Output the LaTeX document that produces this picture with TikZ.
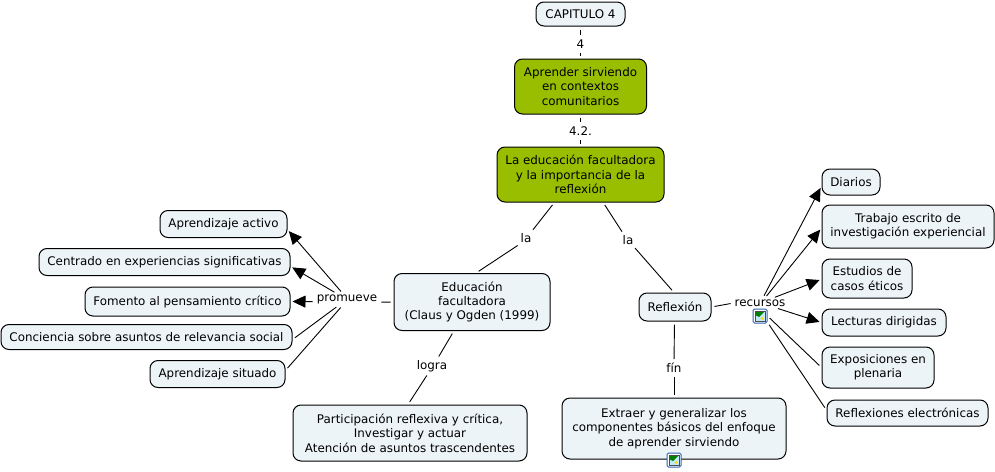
\documentclass[tikz,border=0pt]{standalone}
\usepackage{fontspec}
\setmainfont{DejaVu Sans}
\usepackage{xcolor}
\usetikzlibrary{arrows.meta}
\definecolor{cmapfill}{HTML}{EDF4F7}
\definecolor{cmapgreen}{HTML}{99BE00}
\definecolor{iconblue}{HTML}{2F63B8}

\begin{document}
\begin{tikzpicture}[x=1pt,y=-1pt,>={Triangle[length=13pt,width=12pt]},
  concept/.style={draw=black,fill=cmapfill,rounded corners=8pt,align=center,inner sep=0pt,font=\fontsize{11.9}{14.4}\selectfont,line width=1pt},
  hilite/.style={concept,fill=cmapgreen},
  phrase/.style={inner sep=1pt,font=\fontsize{11.9}{13}\selectfont},
  link/.style={line width=0.9pt,shorten <=3pt,shorten >=3pt},
  linkto/.style={link,->,shorten >=2pt},
  icon/.style={draw=iconblue,fill=white,rounded corners=1.5pt,minimum size=14pt,inner sep=0pt,line width=1pt}]
  \useasboundingbox (0,0) rectangle (995,471);
  % top of the map
  \node[concept,minimum width=89pt,minimum height=24pt] (cap) at (580.5,14) {CAPITULO 4};
  \node[hilite,minimum width=132pt,minimum height=55pt] (apr) at (580.5,86.5) {Aprender sirviendo\\en contextos\\comunitarios};
  \node[hilite,minimum width=167pt,minimum height=55pt] (edu) at (580.5,174.5) {La educación facultadora\\y la importancia de la\\reflexión};
  \node[phrase] (l4) at (580.5,44) {4};
  \node[phrase] (l42) at (580.5,131) {4.2.};
  \draw[link] (cap) -- (l4);
  \draw[link] (l4) -- (apr);
  \draw[link] (apr) -- (l42);
  \draw[link] (l42) -- (edu);
  % left branch
  \node[concept,minimum width=156pt,minimum height=57pt] (fac) at (472,302) {Educación\\facultadora\\(Claus y Ogden (1999)};
  \node[phrase] (la1) at (526,238) {la};
  \node[phrase] (prom) at (347,299.5) {promueve};
  \node[phrase] (logra) at (432,366) {logra};
  \node[concept,minimum width=234pt,minimum height=56pt] (part) at (410,433) {Participación reflexiva y crítica,\\Investigar y actuar\\Atención de asuntos trascendentes};
  \node[concept,minimum width=127pt,minimum height=27pt] (act) at (223.5,224) {Aprendizaje activo};
  \node[concept,minimum width=251pt,minimum height=27pt] (cen) at (164.5,262) {Centrado en experiencias significativas};
  \node[concept,minimum width=205pt,minimum height=29pt] (fom) at (187.5,301.5) {Fomento al pensamiento crítico};
  \node[concept,minimum width=291pt,minimum height=25pt] (con) at (146.5,337) {Conciencia sobre asuntos de relevancia social};
  \node[concept,minimum width=135pt,minimum height=27pt] (sit) at (217.5,374) {Aprendizaje situado};
  \draw[link] (edu.227) -- (la1.49);
  \draw[link] (la1.225) -- (fac.82);
  \draw[link] (fac.west) -- (prom.-5);
  \draw[link] (fac.238) -- (logra.53);
  \draw[link] (logra.243) -- (part.94);
  \draw[linkto] (prom.125) -- (act.-5);
  \draw[linkto] (prom.150) -- (cen.358);
  \draw[linkto] (prom.184) -- (fom.east);
  \draw[link] (prom.215) -- (con.359);
  \draw[link] (prom.233) -- (sit.3);
  % right branch
  \node[phrase] (la2) at (628,240) {la};
  \node[concept,minimum width=72pt,minimum height=28pt] (ref) at (675,307) {Reflexión};
  \node[phrase] (rec) at (760,303) {recursos};
  \node[phrase] (fin) at (674,368) {fín};
  \node[concept,minimum width=224pt,minimum height=61pt] (ext) at (674,428.5) {Extraer y generalizar los\\componentes básicos del enfoque\\de aprender sirviendo};
  \node[concept,minimum width=58pt,minimum height=26pt] (dia) at (851,182) {Diarios};
  \node[concept,minimum width=172pt,minimum height=43pt] (tra) at (908,226.5) {Trabajo escrito de\\investigación experiencial};
  \node[concept,minimum width=90pt,minimum height=39pt] (est) at (867,278.5) {Estudios de\\casos éticos};
  \node[concept,minimum width=124pt,minimum height=27pt] (lec) at (884,322.5) {Lecturas dirigidas};
  \node[concept,minimum width=112pt,minimum height=41pt] (exq) at (878,367.5) {Exposiciones en\\plenaria};
  \node[concept,minimum width=161pt,minimum height=26pt] (rel) at (907.5,413) {Reflexiones electrónicas};
  \node[icon] (ico) at (760,316) {};
  \node[icon] (ico2) at (674,460) {};
  \draw[link] (edu.309) -- (la2.127);
  \draw[link] (la2.311) -- (ref.94);
  \draw[link] (ref.east) -- (rec.west);
  \draw[link] (ref.268) -- (fin.north);
  \draw[link] (fin.south) -- (ext.north);
  \draw[linkto] (rec.60) -- (dia.188);
  \draw[linkto] (rec.45) -- (tra.181);
  \draw[linkto] (rec.21) -- (est.181);
  \draw[linkto] (rec.-17) -- (lec.west);
  \draw[link] (ico.0) -- (exq.west);
  \draw[link] (ico.-40) -- (rel.178);
  % small picture on the two icons
  \foreach \ic in {ico,ico2}{
    \fill[cyan!25!white] ([shift={(-5pt,-5pt)}]\ic.center) rectangle ([shift={(5pt,5pt)}]\ic.center);
    \fill[yellow!80!orange] ([shift={(2pt,-2.5pt)}]\ic.center) circle (1.7pt);
    \fill[green!50!black] ([shift={(-5pt,5pt)}]\ic.center) -- ([shift={(-5pt,1pt)}]\ic.center) -- ([shift={(-1pt,-1pt)}]\ic.center) -- ([shift={(5pt,5pt)}]\ic.center) -- cycle;
    \draw[black!70,line width=0.6pt] ([shift={(-5pt,-5pt)}]\ic.center) rectangle ([shift={(5pt,5pt)}]\ic.center);
  }
\end{tikzpicture}
\end{document}
